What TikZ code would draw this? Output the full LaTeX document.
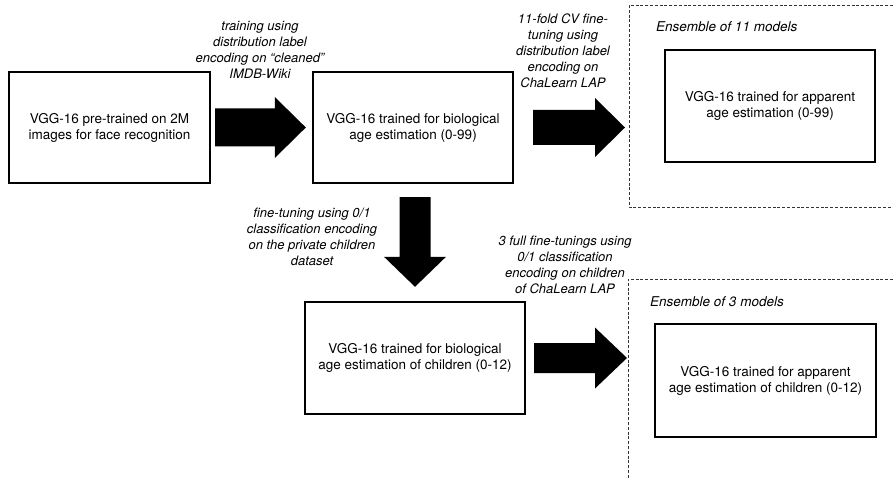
\documentclass[tikz,border=0pt]{standalone}
\usepackage{fontspec}
\setmainfont{TeX Gyre Heros}
\usetikzlibrary{calc}
\newcommand\blockarrowH[5]{%
  \fill let \p1=(#1), \p2=(#2) in (\x1,\y1+#3) -- (\x2-#5,\y1+#3) -- (\x2-#5,\y1+#4) -- (\x2,\y1) -- (\x2-#5,\y1-#4) -- (\x2-#5,\y1-#3) -- (\x1,\y1-#3) -- cycle;}
\newcommand\blockarrowV[5]{%
  \fill let \p1=(#1), \p2=(#2) in (\x1-#3,\y1) -- (\x1-#3,\y2+#5) -- (\x1-#4,\y2+#5) -- (\x1,\y2) -- (\x1+#4,\y2+#5) -- (\x1+#3,\y2+#5) -- (\x1+#3,\y1) -- cycle;}
\tikzset{
  stage/.style={draw=black, line width=2.4pt, fill=white, align=center, inner sep=0pt,
    font=\fontsize{13.5}{16}\selectfont},
  note/.style={align=center, inner sep=0pt, font=\fontsize{13}{16}\selectfont\itshape},
  enslabel/.style={anchor=west, inner sep=0pt, font=\fontsize{13.5}{16}\selectfont\itshape},
  container/.style={draw=black!80, line width=0.9pt, dash pattern=on 3pt off 1.8pt}
}
\begin{document}
\begin{tikzpicture}[x=1pt,y=-1pt]
\useasboundingbox (0,0) rectangle (893,478);
% dashed containers (cut by the picture's edges)
\coordinate (c1) at (629,5);
\coordinate (c2) at (628,279);
\draw[container] (893,5) -- (c1) -- (629,207) -- (893,207);
\draw[container] (893,279) -- (c2) -- (628,478);
\node[enslabel] (ens1) at (656,27) {Ensemble of 11 models};
\node[enslabel] (ens2) at (650,302) {Ensemble of 3 models};
% stage boxes
\node[stage, minimum width=201pt, minimum height=111pt] (b1) at (109.5,127.5)
  {VGG-16 pre-trained on 2M\\images for face recognition};
\node[stage, minimum width=200pt, minimum height=111pt] (b2) at (413,127.5)
  {VGG-16 trained for biological\\age estimation (0-99)};
\node[stage, minimum width=210pt, minimum height=112pt] (b3) at (770,106)
  {VGG-16 trained for apparent\\age estimation (0-99)};
\node[stage, minimum width=220pt, minimum height=112pt] (b4) at (415,358)
  {VGG-16 trained for biological\\age estimation of children (0-12)};
\node[stage, minimum width=221pt, minimum height=113pt] (b5) at (765.5,380.5)
  {VGG-16 trained for apparent\\age estimation of children (0-12)};
% block arrows
\coordinate (a1s) at ($(b1.east)+(4,0)$);
\coordinate (a1e) at ($(b2.west)+(-6,0)$);
\blockarrowH{a1s}{a1e}{19pt}{30.5pt}{31pt}
\coordinate (a2s) at ($(b2.east)+(19,0)$);
\coordinate (a2e) at ($(c1|-b2.east)+(-4,0)$);
\blockarrowH{a2s}{a2e}{17.5pt}{29.5pt}{30pt}
\coordinate (a3s) at ($(b2.south)+(2,13)$);
\coordinate (a3e) at ($(b4.north)+(0,-14)$);
\blockarrowV{a3s}{a3e}{15.5pt}{31pt}{30pt}
\coordinate (a4s) at ($(b4.east)+(8,0)$);
\coordinate (a4e) at ($(c2|-b4.east)+(-1,0)$);
\blockarrowH{a4s}{a4e}{15pt}{30.5pt}{32pt}
% arrow labels
\node[note] (l1) at (260,49.5) {training using\\distribution label\\encoding on “cleaned”\\IMDB-Wiki};
\node[note] (l2) at (563,51) {11-fold CV fine-\\tuning using\\distribution label\\encoding on\\ChaLearn LAP};
\node[note] (l3) at (312,236.5) {fine-tuning using 0/1\\classification encoding\\on the private children\\dataset};
\node[note] (l4) at (565,265) {3 full fine-tunings using\\0/1 classification\\encoding on children\\of ChaLearn LAP};
\end{tikzpicture}
\end{document}
